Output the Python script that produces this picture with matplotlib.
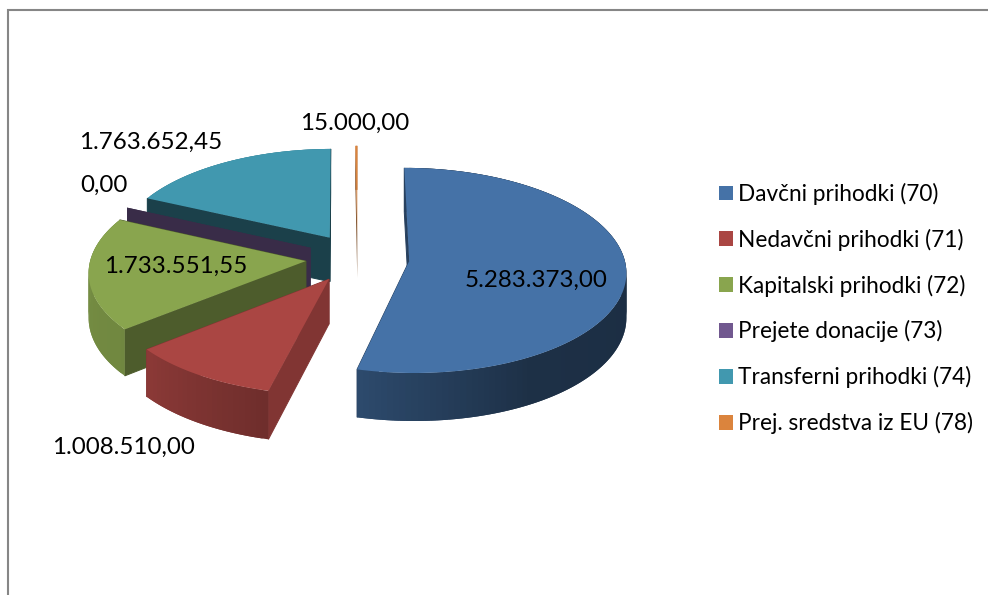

# -*- coding: utf-8 -*-
import numpy as np
import matplotlib
matplotlib.use('Agg')
import matplotlib.pyplot as plt
from matplotlib.patches import Polygon, Patch

#--data--
labels = ['Davčni prihodki (70)', 'Nedavčni prihodki (71)', 'Kapitalski prihodki (72)',
          'Prejete donacije (73)', 'Transferni prihodki (74)', 'Prej. sredstva iz EU (78)']
values = [5283373.00, 1008510.00, 1733551.55, 0.00, 1763652.45, 15000.00]

#--style--
colors = ['#4572A7', '#AA4643', '#89A54E', '#71588F', '#4198AF', '#DB843D']
cut_shade = [0.56, 0.76, 0.56, 0.50, 0.42, 0.55]
draw_order = [4, 5, 3, 2, 0, 1]
label_pos = [(536, 280), (123, 447), (176, 266), (104, 185), (151, 142), (355, 123)]

# pie geometry in pixels
cx, cy = 357.5, 258
R = 215
explode = 52
DEPTH = 44


def proj(px, py, down=False):# pie plane -> picture, with a bit of perspective
    s = 1 + 0.00045 * py
    x = cx + px * s
    y = cy + 0.4745 * py + 0.000204 * py ** 2
    if down:
        y = y + DEPTH + 0.018 * np.maximum(py, 0)
    return x, y


def shade(col, f):
    rgb = np.array(matplotlib.colors.to_rgb(col))
    return tuple(rgb * f)


def side_factor(deg):# rim gets lighter towards the left
    return np.interp(deg, [90, 150, 194, 231, 295, 360], [0.40, 0.42, 0.65, 0.82, 0.88, 0.88])


def fmt(v):
    return '{:,.2f}'.format(v).replace(',', ' ').replace('.', ',').replace(' ', '.')


def draw_slice(ax, a0, a1, col, cut_f, z):
    mid = np.radians((a0 + a1) / 2)
    ox = explode * np.sin(mid)
    oy = -explode * np.cos(mid)

    n = max(int((a1 - a0) / 1.5), 1) + 1
    deg = np.linspace(a0, a1, n + 1)
    th = np.radians(deg)
    rx = ox + R * np.sin(th)
    ry = oy - R * np.cos(th)

    # outer side, small pieces for the gradient; each one runs under the next so no seams
    def rim(i, zz):
        xa, ya = proj(rx[i:i + 3], ry[i:i + 3])
        xb, yb = proj(rx[i:i + 3], ry[i:i + 3], True)
        c = shade(col, side_factor((deg[i] + deg[i + 1]) / 2))
        ax.add_patch(Polygon(list(zip(xa, ya)) + list(zip(xb[::-1], yb[::-1])), closed=True,
                             fc=c, ec='none', zorder=zz))

    # back part of the rim goes first, then cut faces, then the front part
    for i in range(n):
        if np.cos(th[i]) > 0:
            rim(i, z)

    # thin slices stay without an edge or they get too fat
    lw = 0.7 if a1 - a0 > 5 else 0
    for i in (-1, 0):
        xa, ya = proj(ox, oy)
        xb, yb = proj(rx[i], ry[i])
        xc, yc = proj(rx[i], ry[i], True)
        xd, yd = proj(ox, oy, True)
        c = shade(col, cut_f)
        ax.add_patch(Polygon([(xa, ya), (xb, yb), (xc, yc), (xd, yd)], closed=True,
                             fc=c, ec=c, lw=lw, zorder=z + 0.1))

    for i in range(n):
        if np.cos(th[i]) <= 0:
            rim(i, z + 0.2)

    # top
    xt, yt = proj(rx, ry)
    xo, yo = proj(ox, oy)
    if a1 > a0:
        ax.add_patch(Polygon([(xo, yo)] + list(zip(xt, yt)), closed=True,
                             fc=col, ec='none', zorder=z + 0.3))


fig = plt.figure(figsize=(9.88, 5.95), dpi=100)
ax = fig.add_axes([0, 0, 1, 1])
ax.set_xlim(0, 988)
ax.set_ylim(595, 0)
ax.axis('off')
plt.rcParams['font.family'] = ['Lato', 'DejaVu Sans']

# chart frame, bottom and right are cut off
ax.plot([8, 8, 988], [595, 9.5, 9.5], color='#868686', lw=1.5, solid_joinstyle='miter')

total = sum(values)
ends = np.cumsum(values) / total * 360
starts = np.concatenate([[0], ends[:-1]])

for k, i in enumerate(draw_order):
    draw_slice(ax, starts[i], ends[i], colors[i], cut_shade[i], 2 + k)

for v, (x, y) in zip(values, label_pos):
    ax.text(x, y, fmt(v), ha='center', va='center', fontsize=17.4, color='black', zorder=20)

handles = [Patch(fc=c, ec='none') for c in colors]
ax.legend(handles, labels, loc='upper left', bbox_to_anchor=(712 / 988, 1 - 176 / 595),
          frameon=False, fontsize=16.3, handlelength=0.62, handleheight=0.62,
          handletextpad=0.22, labelspacing=1.05, borderpad=0, borderaxespad=0.3)

fig.savefig('out.png', dpi=100)
